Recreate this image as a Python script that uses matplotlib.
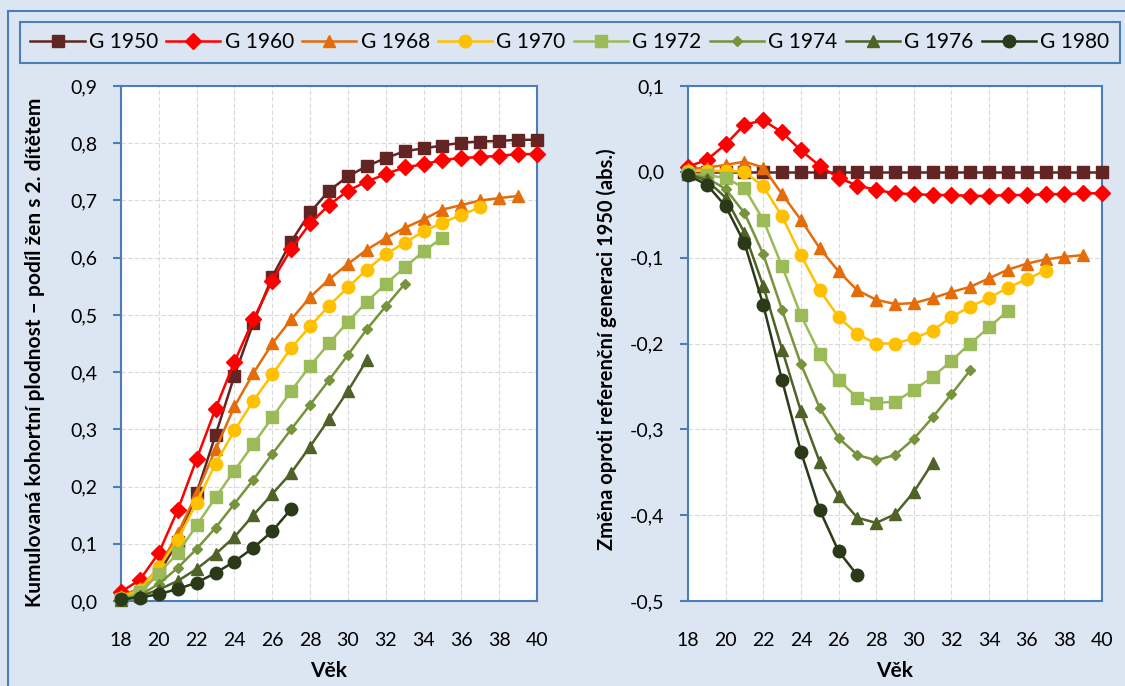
# Kumulovaná kohortní plodnost - druhé dítě, generace 1950-1980

import matplotlib
matplotlib.use("Agg")
import matplotlib.pyplot as plt
from matplotlib.patches import Rectangle
from matplotlib.ticker import FuncFormatter, MultipleLocator

plt.rcParams['font.family'] = ['Lato', 'DejaVu Sans']

# --- data ---
ages = list(range(18, 41))

cum_1950 = [0.007, 0.014, 0.049, 0.103, 0.189, 0.290, 0.394, 0.486, 0.567, 0.628, 0.679, 0.717,
            0.742, 0.760, 0.774, 0.786, 0.791, 0.796, 0.801, 0.803, 0.804, 0.806, 0.806]
cum_1960 = [0.016, 0.037, 0.084, 0.159, 0.248, 0.336, 0.418, 0.492, 0.560, 0.615, 0.660, 0.692,
            0.717, 0.733, 0.746, 0.758, 0.763, 0.771, 0.774, 0.776, 0.778, 0.781, 0.781]
cum_1968 = [0.008, 0.023, 0.058, 0.118, 0.188, 0.265, 0.340, 0.398, 0.450, 0.492, 0.531, 0.562,
            0.589, 0.614, 0.634, 0.652, 0.667, 0.684, 0.692, 0.700, 0.704, 0.708]
cum_1970 = [0.006, 0.020, 0.059, 0.107, 0.172, 0.240, 0.298, 0.350, 0.396, 0.442, 0.480, 0.516,
            0.548, 0.579, 0.606, 0.626, 0.646, 0.661, 0.675, 0.688]
cum_1972 = [0.003, 0.015, 0.048, 0.084, 0.132, 0.181, 0.228, 0.274, 0.321, 0.367, 0.411, 0.450,
            0.488, 0.523, 0.554, 0.583, 0.611, 0.635]
cum_1974 = [0.002, 0.010, 0.030, 0.058, 0.091, 0.128, 0.170, 0.212, 0.257, 0.300, 0.343, 0.386,
            0.430, 0.475, 0.515, 0.554]
cum_1976 = [0.002, 0.008, 0.020, 0.035, 0.056, 0.082, 0.112, 0.150, 0.187, 0.224, 0.270, 0.318,
            0.367, 0.421]
cum_1980 = [0.003, 0.006, 0.012, 0.021, 0.032, 0.049, 0.069, 0.093, 0.122, 0.161]

diff_1950 = [0.0] * 23
diff_1960 = [0.006, 0.014, 0.032, 0.055, 0.060, 0.046, 0.025, 0.007, -0.007, -0.016, -0.021, -0.025,
             -0.026, -0.027, -0.027, -0.028, -0.028, -0.027, -0.027, -0.026, -0.026, -0.025, -0.025]
diff_1968 = [0.003, 0.005, 0.008, 0.012, 0.005, -0.026, -0.056, -0.089, -0.116, -0.138, -0.149, -0.154,
             -0.153, -0.147, -0.140, -0.134, -0.124, -0.114, -0.107, -0.102, -0.099, -0.097]
diff_1970 = [0.001, 0.001, 0.001, 0.0, -0.017, -0.052, -0.097, -0.138, -0.169, -0.189, -0.200, -0.200,
             -0.194, -0.185, -0.169, -0.157, -0.147, -0.135, -0.125, -0.115]
diff_1972 = [-0.002, -0.004, -0.007, -0.019, -0.056, -0.110, -0.167, -0.212, -0.243, -0.263, -0.269,
             -0.268, -0.254, -0.239, -0.220, -0.200, -0.181, -0.162]
diff_1974 = [-0.003, -0.007, -0.020, -0.048, -0.096, -0.161, -0.224, -0.275, -0.310, -0.330, -0.336,
             -0.330, -0.311, -0.286, -0.259, -0.231]
diff_1976 = [-0.003, -0.010, -0.030, -0.071, -0.133, -0.207, -0.279, -0.338, -0.378, -0.403, -0.409,
             -0.399, -0.373, -0.339]
diff_1980 = [-0.004, -0.015, -0.040, -0.083, -0.155, -0.243, -0.326, -0.394, -0.442, -0.470]

labels = ["G 1950", "G 1960", "G 1968", "G 1970", "G 1972", "G 1974", "G 1976", "G 1980"]
colors = ["#632523", "#FF0000", "#E46C0A", "#FFC000", "#9BBB59", "#77933C", "#4F6228", "#2A3A18"]
markers = ["s", "D", "^", "o", "s", "D", "^", "o"]
msizes = [8.5, 8, 8.5, 9, 8.5, 5.5, 8.5, 9]

cum_series = [cum_1950, cum_1960, cum_1968, cum_1970, cum_1972, cum_1974, cum_1976, cum_1980]
diff_series = [diff_1950, diff_1960, diff_1968, diff_1970, diff_1972, diff_1974, diff_1976, diff_1980]

bg = "#DCE6F2"
blue = "#4A7EBB"

fig = plt.figure(figsize=(11.25, 6.86), dpi=100, facecolor=bg)

# outer chart border
fig.patches.append(Rectangle((8 / 1125, -0.1), 1.2, 1.1 - 11 / 686, transform=fig.transFigure,
                             fill=False, edgecolor=blue, linewidth=1.5))

ax1 = fig.add_axes([121 / 1125, 1 - 601 / 686, 416 / 1125, 515 / 686])
ax2 = fig.add_axes([688 / 1125, 1 - 601 / 686, 414 / 1125, 515 / 686])


def comma(v, pos):
    return f"{round(v, 2) + 0.0:.1f}".replace(".", ",")


handles = []
for ax, series in [(ax1, cum_series), (ax2, diff_series)]:
    for i, vals in enumerate(series):
        line, = ax.plot(ages[:len(vals)], vals, color=colors[i], marker=markers[i],
                        markersize=msizes[i], linewidth=1.8, clip_on=False, zorder=3 + i,
                        label=labels[i])
        if ax is ax1:
            handles.append(line)
    ax.set_xlim(18, 40)
    ax.xaxis.set_major_locator(MultipleLocator(2))
    ax.yaxis.set_major_locator(MultipleLocator(0.1))
    ax.yaxis.set_major_formatter(FuncFormatter(comma))
    ax.grid(True, color="#D9D9D9", linestyle=(0, (4, 2)), linewidth=0.8)
    ax.set_axisbelow(True)
    for s in ax.spines.values():
        s.set_color(blue)
        s.set_linewidth(1.5)
    ax.tick_params(axis="y", length=6, width=1.5, color=blue, labelsize=14, pad=11)
    ax.tick_params(axis="x", length=0, labelsize=14, pad=22)
    ax.set_xlabel("Věk", fontsize=15, fontweight="bold")
    ax.xaxis.set_label_coords(0.5, -0.116)

ax1.set_ylim(0, 0.9)
ax2.set_ylim(-0.5, 0.1)

ax1.set_ylabel("Kumulovaná kohortní plodnost – podíl žen s 2. dítětem", fontsize=15, fontweight="bold")
ax1.yaxis.set_label_coords(-0.183, 0.483)
ax2.set_ylabel("Změna oproti referenční generaci 1950 (abs.)", fontsize=14.5, fontweight="bold")
ax2.yaxis.set_label_coords(-0.171, 0.489)

leg = fig.legend(handles=handles, loc="upper left", bbox_to_anchor=(20 / 1125, 1 - 22 / 686),
                 ncol=8, fontsize=15, frameon=True, fancybox=False, edgecolor=blue, facecolor=bg,
                 handlelength=2.6, handletextpad=0.2, columnspacing=0.4, borderaxespad=0,
                 borderpad=0.5)
leg.get_frame().set_linewidth(1.5)
leg.get_frame().set_alpha(1)

fig.savefig("out.png", dpi=100, facecolor=bg)
